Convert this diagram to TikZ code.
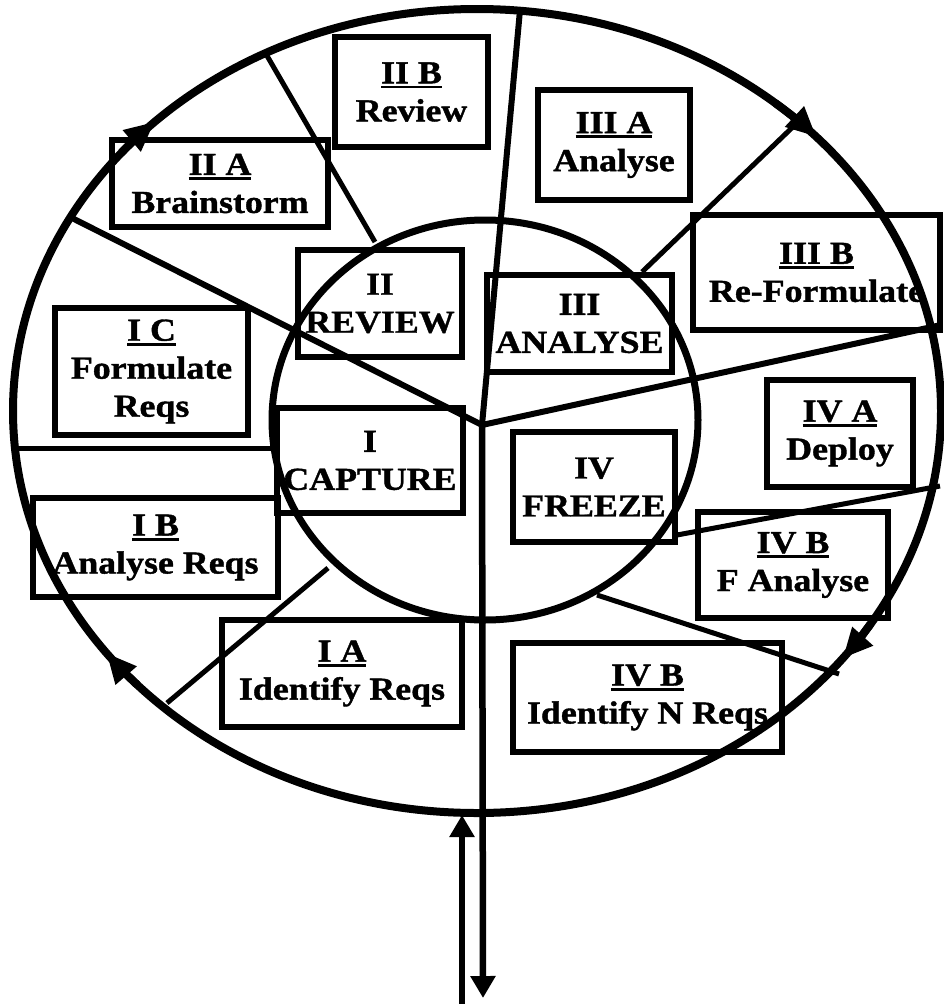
\documentclass[tikz,border=0pt]{standalone}
\usepackage{fontspec}
\setmainfont{Liberation Serif}[FakeStretch=1.12, BoldFeatures={FakeBold=1.2}]
\usetikzlibrary{arrows.meta}
\newcommand\ulbar[1]{\setbox0=\hbox{#1}\rlap{\rule[-5pt]{\wd0}{2.8pt}}\box0}
\begin{document}
\begin{tikzpicture}[x=1pt,y=-1pt,
  box/.style={draw, line width=6.2pt, inner sep=0pt, align=center,
    font=\bfseries\fontsize{32}{38}\selectfont},
  ring/.style={line width=8pt},
  inring/.style={line width=7pt},
  spoke/.style={line width=6pt},
  divider/.style={line width=5pt},
  flow/.style={line width=8pt, -{Triangle[length=30pt,width=26pt]}},
  io/.style={line width=6pt, -{Triangle[length=22pt,width=24pt]}}]
\useasboundingbox (0,0) rectangle (943,1004);
\fill[white] (0,0) rectangle (943,1004);

% centres
\coordinate (O) at (477,411);
\coordinate (Ic) at (485,420);
\coordinate (C) at (482,425);

% circles
\draw[ring] (O) ellipse [x radius=464, y radius=402];
\draw[inring] (Ic) ellipse [x radius=213, y radius=200];

% flow arrows on outer circle
\coordinate (a1) at (121.6,152.5);
\coordinate (a2) at (775.3,103.1);
\coordinate (a3) at (870.5,624.0);
\coordinate (a4) at (137.7,685.2);
\draw[flow] (a1) arc [start angle=-140, end angle=-134, x radius=464, y radius=402];
\draw[flow] (a2) arc [start angle=-50, end angle=-43, x radius=464, y radius=402];
\draw[flow] (a3) arc [start angle=32, end angle=38, x radius=464, y radius=402];
\draw[flow] (a4) arc [start angle=137, end angle=143, x radius=464, y radius=402];

% spokes
\coordinate (L) at (72,218);
\coordinate (T) at (520,10);
\coordinate (R) at (941,325);
\coordinate (D) at (483,998);
\draw[spoke] (L) -- (C) -- (R);
\draw[spoke] (T) -- (C);
\draw[io, line width=6.5pt] (C) -- (D);
\coordinate (U1) at (462,1012);
\coordinate (U2) at (462,815);
\draw[io] (U1) -- (U2);

% dividers
\coordinate (d1a) at (375,242); \coordinate (d1b) at (266,54);
\coordinate (d2a) at (272,448); \coordinate (d2b) at (16,448);
\coordinate (d3a) at (328,568); \coordinate (d3b) at (167,703);
\coordinate (d4a) at (642,272); \coordinate (d4b) at (799,121);
\coordinate (d5a) at (677,535); \coordinate (d5b) at (940,486);
\coordinate (d6a) at (597,595); \coordinate (d6b) at (839,674);
\draw[divider] (d1a) -- (d1b);
\draw[divider] (d2a) -- (d2b);
\draw[divider] (d3a) -- (d3b);
\draw[divider] (d4a) -- (d4b);
\draw[divider] (d5a) -- (d5b);
\draw[divider] (d6a) -- (d6b);

% boxes
\node[box, minimum width=153pt, minimum height=110pt] (iib) at (411.5,92) {\ulbar{II B}\\Review};
\node[box, minimum width=216pt, minimum height=87pt] (iia) at (220,183.5) {\ulbar{II A}\\Brainstorm};
\node[box, minimum width=193pt, minimum height=127pt] (ic) at (151.5,371.5) {\ulbar{I C}\\Formulate\\Reqs};
\node[box, minimum width=164pt, minimum height=107pt] (ii) at (380,303.5) {II\\REVIEW};
\node[box, minimum width=186pt, minimum height=105pt] (i) at (370,460.5) {I\\CAPTURE};
\node[box, minimum width=185pt, minimum height=97pt] (iii) at (579.5,323.5) {III\\ANALYSE};
\node[box, minimum width=152pt, minimum height=110pt] (iiia) at (614,145) {\ulbar{III A}\\Analyse};
\node[box, minimum width=247pt, minimum height=115pt] (iiib) at (816.5,272.5) {\ulbar{III B}\\Re-Formulate};
\node[box, minimum width=146pt, minimum height=107pt] (iva) at (840,433.5) {\ulbar{IV A}\\Deploy};
\node[box, minimum width=162pt, minimum height=110pt] (iv) at (594,487) {IV\\FREEZE};
\node[box, minimum width=190pt, minimum height=106pt] (ivbf) at (793,565) {\ulbar{IV B}\\F Analyse};
\node[box, minimum width=269pt, minimum height=109pt] (ivbn) at (647.5,697.5) {\ulbar{IV B}\\Identify N Reqs};
\node[box, minimum width=245pt, minimum height=99pt] (ib) at (155.5,547.5) {\ulbar{I B}\\Analyse Reqs};
\node[box, minimum width=240pt, minimum height=107pt] (ia) at (342,673.5) {\ulbar{I A}\\Identify Reqs};
\end{tikzpicture}
\end{document}
